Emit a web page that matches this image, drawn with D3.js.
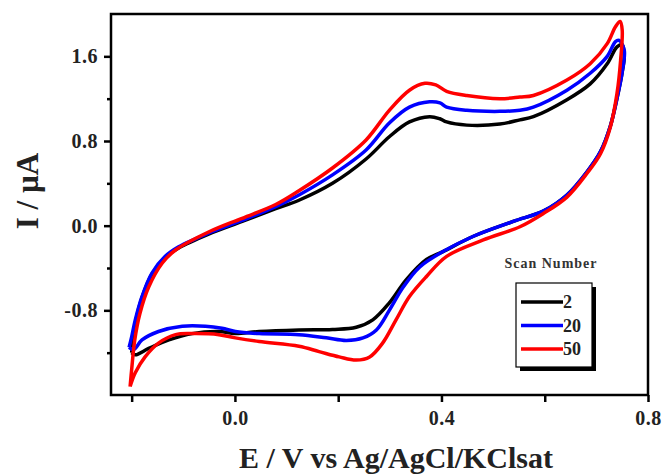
<!DOCTYPE html>
<html>
<head>
<meta charset="utf-8">
<script src="https://cdn.jsdelivr.net/npm/d3@7"></script>
<style>
  body { margin: 0; background: #fff; }
  svg text { font-family: "Liberation Serif", "Times New Roman", serif; font-weight: bold; }
</style>
</head>
<body>
<div id="chart"></div>
<script>
// cyclic voltammograms, [E (V), I (uA)], forward scan then reverse scan
var scan2 = [
  [-0.200,-1.20],[-0.197,-1.08],[-0.192,-0.90],[-0.180,-0.68],[-0.161,-0.46],[-0.135,-0.30],[-0.109,-0.21],
  [-0.051,-0.08],[0.014,0.04],[0.079,0.16],[0.124,0.24],[0.189,0.40],[0.254,0.63],[0.299,0.84],[0.338,0.98],
  [0.377,1.03],[0.397,1.01],[0.410,0.98],[0.449,0.95],[0.513,0.96],[0.552,1.00],[0.578,1.03],[0.643,1.19],
  [0.688,1.34],[0.721,1.53],[0.740,1.69],[0.750,1.71],
  [0.754,1.60],[0.750,1.45],[0.742,1.25],[0.727,0.94],[0.708,0.70],[0.682,0.51],[0.643,0.29],[0.598,0.14],
  [0.539,0.04],[0.462,-0.10],[0.403,-0.245],[0.371,-0.32],[0.332,-0.51],[0.299,-0.73],[0.267,-0.89],
  [0.235,-0.96],[0.189,-0.98],[0.124,-0.985],[0.047,-1.00],[0.001,-1.02],[-0.031,-1.00],[-0.083,-1.02],
  [-0.128,-1.08],[-0.167,-1.16],[-0.193,-1.22],[-0.200,-1.20]
];
var scan20 = [
  [-0.205,-1.15],[-0.200,-1.05],[-0.193,-0.89],[-0.180,-0.67],[-0.161,-0.45],[-0.135,-0.29],[-0.109,-0.20],
  [-0.051,-0.07],[0.014,0.05],[0.079,0.18],[0.124,0.29],[0.189,0.48],[0.254,0.715],[0.299,0.97],[0.338,1.12],
  [0.377,1.17],[0.397,1.16],[0.410,1.12],[0.449,1.09],[0.513,1.08],[0.552,1.09],[0.578,1.12],[0.643,1.28],
  [0.688,1.44],[0.721,1.60],[0.737,1.74],[0.744,1.75],
  [0.754,1.66],[0.750,1.45],[0.742,1.25],[0.727,0.94],[0.708,0.70],[0.682,0.51],[0.643,0.29],[0.598,0.14],
  [0.539,0.04],[0.462,-0.10],[0.403,-0.245],[0.358,-0.39],[0.326,-0.58],[0.299,-0.80],[0.274,-0.985],
  [0.248,-1.06],[0.216,-1.085],[0.177,-1.06],[0.124,-1.03],[0.047,-1.02],[0.001,-1.00],[-0.025,-0.97],
  [-0.057,-0.95],[-0.102,-0.95],[-0.148,-1.00],[-0.180,-1.08],[-0.196,-1.17],[-0.205,-1.15]
];
var scan50 = [
  [-0.203,-1.52],[-0.200,-1.36],[-0.194,-1.08],[-0.184,-0.83],[-0.167,-0.58],[-0.141,-0.355],[-0.115,-0.23],
  [-0.051,-0.06],[0.014,0.07],[0.079,0.20],[0.124,0.33],[0.189,0.545],[0.254,0.81],[0.299,1.09],[0.338,1.28],
  [0.368,1.345],[0.389,1.33],[0.410,1.27],[0.449,1.23],[0.513,1.20],[0.552,1.215],[0.578,1.23],[0.643,1.376],
  [0.688,1.53],[0.721,1.72],[0.737,1.88],[0.746,1.93],
  [0.750,1.85],[0.747,1.565],[0.740,1.25],[0.727,0.93],[0.708,0.68],[0.682,0.495],[0.643,0.27],[0.598,0.117],
  [0.552,-0.01],[0.481,-0.135],[0.410,-0.29],[0.371,-0.48],[0.338,-0.67],[0.312,-0.89],[0.286,-1.11],
  [0.261,-1.24],[0.235,-1.27],[0.202,-1.24],[0.163,-1.19],[0.124,-1.14],[0.047,-1.095],[0.001,-1.06],
  [-0.031,-1.03],[-0.083,-1.02],[-0.115,-1.03],[-0.148,-1.11],[-0.174,-1.24],[-0.193,-1.39],[-0.203,-1.52]
];

var scanNames = ["2", "20", "50"];
var scanColors = ["#000000", "#0000ff", "#ff0000"];
var xMajorTicks = [0.0, 0.4, 0.8];
var xMinorTicks = [-0.2, 0.2, 0.6];
var yMajorTicks = [1.6, 0.8, 0.0, -0.8];
var yMinorTicks = [1.2, 0.4, -0.4, -1.2];

var series = [scan2, scan20, scan50];

// plot area
var margin = {top: 14, right: 15, bottom: 79, left: 111}
  , width = 663 - margin.left - margin.right
  , height = 474 - margin.top - margin.bottom;

var x = d3.scaleLinear()
  .domain([-0.24, 0.8])
  .range([0, width]);

var y = d3.scaleLinear()
  .domain([-1.6, 2.0])
  .range([height, 0]);

var line = d3.line()
  .x(function(d) { return x(d[0]); })
  .y(function(d) { return y(d[1]); })
  .curve(d3.curveCatmullRom.alpha(0.5));

// plain hyphen for negatives, like the original
var fmt = function(d) { return d.toFixed(1); };

var chart = d3.select("#chart")
  .append("svg")
  .attr("width", 663)
  .attr("height", 474);

var main = chart.append("g")
  .attr("transform", "translate(" + margin.left + "," + margin.top + ")");

// curves, red drawn last so it sits on top
series.forEach(function(s, i) {
  main.append("path")
    .datum(s)
    .attr("fill", "none")
    .attr("stroke", scanColors[i])
    .attr("stroke-width", 3.5)
    .attr("stroke-linejoin", "round")
    .attr("d", line);
});

// frame
main.append("rect")
  .attr("width", width)
  .attr("height", height)
  .attr("fill", "none")
  .attr("stroke", "#000")
  .attr("stroke-width", 2.5);

// x axis
main.append("g")
  .attr("transform", "translate(0," + height + ")")
  .call(d3.axisBottom(x).tickValues(xMajorTicks).tickSize(7).tickPadding(9).tickFormat(fmt));
main.append("g")
  .attr("transform", "translate(0," + height + ")")
  .call(d3.axisBottom(x).tickValues(xMinorTicks).tickSize(7).tickFormat(""));

// y axis
main.append("g")
  .call(d3.axisLeft(y).tickValues(yMajorTicks).tickSize(7).tickPadding(6).tickFormat(fmt));
main.append("g")
  .call(d3.axisLeft(y).tickValues(yMinorTicks).tickSize(4).tickFormat(""));

main.selectAll(".domain").remove();
main.selectAll(".tick line").attr("stroke", "#000").attr("stroke-width", 2.5);
main.selectAll(".tick text")
  .attr("fill", "#222")
  .style("font-size", "20px")
  .style("letter-spacing", "0.5px");

// axis titles
chart.append("text")
  .attr("text-anchor", "middle")
  .attr("x", 396)
  .attr("y", 468)
  .style("font-size", "30px")
  .attr("fill", "#222")
  .text("E / V vs Ag/AgCl/KClsat");

chart.append("text")
  .attr("text-anchor", "middle")
  .attr("transform", "translate(38,191)rotate(-90)")
  .style("font-size", "31px")
  .attr("fill", "#222")
  .text("I / \u00b5A");

// legend
var legend = chart.append("g")
  .attr("transform", "translate(516,283)");

legend.append("text")
  .attr("x", 35)
  .attr("y", -15)
  .attr("text-anchor", "middle")
  .style("font-size", "14px")
  .style("letter-spacing", "1px")
  .attr("fill", "#333")
  .text("Scan Number");

legend.append("rect")
  .attr("x", 4)
  .attr("y", 4)
  .attr("width", 76)
  .attr("height", 84)
  .attr("fill", "#000");

legend.append("rect")
  .attr("width", 76)
  .attr("height", 84)
  .attr("fill", "#fff")
  .attr("stroke", "#000")
  .attr("stroke-width", 1.2);

var entries = legend.selectAll(".entry")
  .data(scanNames)
  .enter().append("g")
  .attr("transform", function(d, i) { return "translate(0," + (19 + i * 23.5) + ")"; });

entries.append("line")
  .attr("x1", 5)
  .attr("x2", 47)
  .attr("stroke", function(d, i) { return scanColors[i]; })
  .attr("stroke-width", 3.5);

entries.append("text")
  .attr("x", 47)
  .attr("y", 6)
  .style("font-size", "18px")
  .attr("fill", "#222")
  .text(function(d) { return d; });
</script>
</body>
</html>
